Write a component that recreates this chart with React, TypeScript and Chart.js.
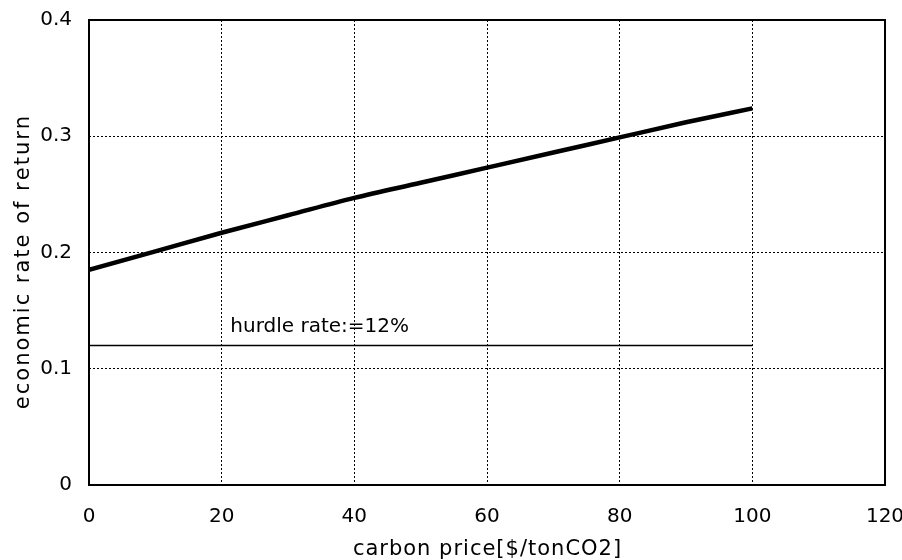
import React, { useEffect, useRef } from "react";
import { Chart, registerables } from "chart.js";

Chart.register(...registerables);

const carbonPrice = [0, 10, 20, 30, 40, 50, 60, 70, 80, 90, 100];
const rateOfReturn = [0.185, 0.201, 0.217, 0.232, 0.247, 0.26, 0.273, 0.286, 0.299, 0.312, 0.324];
const hurdleX = [0, 100];
const hurdleY = [0.12, 0.12];
const hurdleLabel = "hurdle rate:=12%";
const xTitle = "carbon price[$/tonCO2]";
const yTitle = "economic rate of return";

const FONT = "'DejaVu Sans', sans-serif";

function spacedText(ctx: CanvasRenderingContext2D, text: string, cx: number, cy: number, spacing: number) {
  const chars = Array.from(text);
  const widths = chars.map((c) => ctx.measureText(c).width);
  const total = widths.reduce((a, b) => a + b, 0) + spacing * (chars.length - 1);
  let x = cx - total / 2;
  ctx.textAlign = "left";
  chars.forEach((c, i) => {
    ctx.fillText(c, x, cy);
    x += widths[i] + spacing;
  });
}

export default function App() {
  const ref = useRef<HTMLCanvasElement | null>(null);
  useEffect(() => {
    document.body.style.margin = "0";
    const ctx = ref.current!.getContext("2d")!;
    const framePlugin = {
      id: "frame",
      afterDraw(chart: any) {
        const { ctx, chartArea } = chart;
        const { left, right, top, bottom } = chartArea;
        ctx.save();
        ctx.strokeStyle = "#000";
        ctx.lineWidth = 2;
        ctx.strokeRect(left, top, right - left, bottom - top);
        const xs = chart.scales.x;
        const ys = chart.scales.y;
        ctx.fillStyle = "#000";
        ctx.font = `20px ${FONT}`;
        ctx.textBaseline = "alphabetic";
        ctx.textAlign = "left";
        ctx.fillText(hurdleLabel, xs.getPixelForValue(21.3), ys.getPixelForValue(0.132));
        // axis titles
        ctx.textBaseline = "middle";
        ctx.font = `21px ${FONT}`;
        spacedText(ctx, xTitle, (left + right) / 2, 550, 1);
        ctx.save();
        ctx.translate(24, (top + bottom) / 2 + 10);
        ctx.rotate(-Math.PI / 2);
        spacedText(ctx, yTitle, 0, 0, 2);
        ctx.restore();
        ctx.restore();
      },
    };
    const chart = new Chart(ctx, {
      type: "scatter",
      data: {
        datasets: [
          {
            data: carbonPrice.map((x, i) => ({ x, y: rateOfReturn[i] })),
            showLine: true,
            borderColor: "#000",
            borderWidth: 4.5,
            pointRadius: 0,
            cubicInterpolationMode: "monotone",
          },
          {
            data: hurdleX.map((x, i) => ({ x, y: hurdleY[i] })),
            showLine: true,
            borderColor: "#000",
            borderWidth: 1.5,
            pointRadius: 0,
          },
        ],
      },
      plugins: [framePlugin],
      options: {
        animation: false,
        responsive: false,
        layout: { padding: { top: 20, right: 17, left: 0, bottom: 0 } },
        plugins: { legend: { display: false }, tooltip: { enabled: false } },
        scales: {
          x: {
            type: "linear",
            min: 0,
            max: 120,
            ticks: { stepSize: 20, color: "#000", font: { size: 20, family: FONT }, padding: 20 },
            grid: { color: "#000", lineWidth: 1, drawTicks: false },
            border: { display: false, dash: [2, 2] } as any,
            title: { display: false },
            afterFit: (s: any) => { s.height = 75; s.paddingRight = 0; s.paddingLeft = 0; },
          },
          y: {
            type: "linear",
            min: 0,
            max: 0.4,
            ticks: { stepSize: 0.1, color: "#000", font: { size: 20, family: FONT }, padding: 17, callback: (v: any) => (v === 0 ? "0" : Number(v).toFixed(1)) },
            grid: { color: "#000", lineWidth: 1, drawTicks: false },
            border: { display: false, dash: [2, 2] } as any,
            title: { display: false },
            afterFit: (s: any) => { s.width = 89; s.paddingTop = 0; s.paddingBottom = 0; },
          },
        },
      },
    });
    return () => chart.destroy();
  }, []);
  return (
    <div style={{ width: 902, height: 560, background: "#fff" }}>
      <canvas ref={ref} width={902} height={560} />
    </div>
  );
}
